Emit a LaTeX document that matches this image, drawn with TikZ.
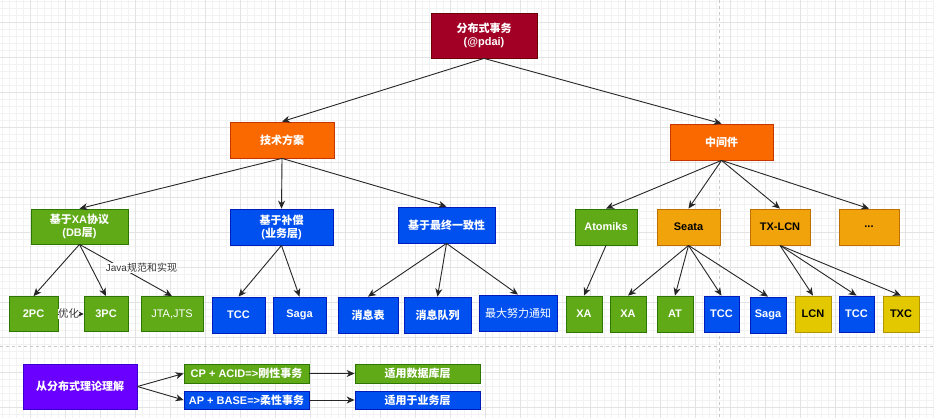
\documentclass[tikz,border=0pt]{standalone}
\usepackage{fontspec}
\setmainfont{Liberation Sans}
\newfontfamily\cjk{Noto Sans CJK SC}
\newcommand\zh[1]{{\cjk #1}}
\usetikzlibrary{arrows.meta}
\definecolor{cRed}{HTML}{A20025}\definecolor{cRedS}{HTML}{6F0000}
\definecolor{cOra}{HTML}{FA6800}\definecolor{cOraS}{HTML}{C73500}
\definecolor{cGrn}{HTML}{60A917}\definecolor{cGrnS}{HTML}{2D7600}
\definecolor{cBlu}{HTML}{0050EF}\definecolor{cBluS}{HTML}{001DBC}
\definecolor{cAmb}{HTML}{F0A30A}\definecolor{cAmbS}{HTML}{BD7000}
\definecolor{cYel}{HTML}{E3C800}\definecolor{cYelS}{HTML}{B09500}
\definecolor{cPur}{HTML}{6A00FF}\definecolor{cPurS}{HTML}{3700CC}
\definecolor{gMinor}{HTML}{F2F2F2}\definecolor{gMajor}{HTML}{E3E3E3}
\definecolor{pgLine}{HTML}{C8C8C8}\definecolor{lblText}{HTML}{333333}
\newcommand\fsz{\fontsize{11}{13}\selectfont}
\tikzset{
  box/.style={draw, line width=0.8pt, inner sep=0pt, align=center,
    font=\fsz\bfseries, text=white},
  nred/.style={box, fill=cRed, draw=cRedS},
  nora/.style={box, fill=cOra, draw=cOraS},
  ngrn/.style={box, fill=cGrn, draw=cGrnS},
  nblu/.style={box, fill=cBlu, draw=cBluS},
  namb/.style={box, fill=cAmb, draw=cAmbS, text=black},
  nyel/.style={box, fill=cYel, draw=cYelS, text=black},
  npur/.style={box, fill=cPur, draw=cPurS},
  thin/.style={font=\fsz\mdseries},
  sz/.style 2 args={minimum width=#1pt, minimum height=#2pt},
  arr/.style={-{Stealth[length=8pt,width=7pt,inset=2.5pt]}, line width=0.9pt, draw=black!85},
  smallarr/.style={-{Stealth[length=5pt,width=5pt,inset=1.5pt]}, line width=0.9pt, draw=black!85},
  lbl/.style={fill=white, inner sep=0.3pt, text=lblText},
  gminor/.style={draw=gMinor, line width=0.5pt},
  gmajor/.style={draw=gMajor, line width=0.7pt},
  pgline/.style={draw=pgLine, line width=0.7pt, dash pattern=on 3pt off 3pt}
}
\begin{document}
\begin{tikzpicture}[x=1pt,y=-1pt]
\useasboundingbox (0,0) rectangle (934,418);
\fill[white] (0,0) rectangle (934,418);
% grid
\foreach \i in {0,...,133} \draw[gminor] ({2.7+7*\i},0) -- ({2.7+7*\i},418);
\foreach \i in {0,...,59} \draw[gminor] (0,{1.7+7*\i}) -- (934,{1.7+7*\i});
\foreach \i in {0,...,26} \draw[gmajor] ({30.7+35*\i},0) -- ({30.7+35*\i},418);
\foreach \i in {0,...,11} \draw[gmajor] (0,{22.7+35*\i}) -- (934,{22.7+35*\i});
\draw[pgline] (0,346) -- (934,346);
\draw[pgline] (719,0) -- (719,418);

% level 0-1
\node[nred, sz={106}{45}] (root) at (484,35.5) {\zh{分布式事务}\\(@pdai)};
\node[nora, sz={104}{36}] (tech) at (282,140) {\zh{技术方案}};
\node[nora, sz={103}{36}] (mid) at (721.5,142) {\zh{中间件}};
% level 2
\node[ngrn, sz={97}{35}] (xa) at (79.5,226.5) {\zh{基于}XA\zh{协议}\\(DB\zh{层})};
\node[nblu, sz={103}{36}] (comp) at (281.5,227) {\zh{基于补偿}\\(\zh{业务层})};
\node[nblu, sz={97}{36}] (final) at (446.5,225) {\zh{基于最终一致性}};
\node[ngrn, sz={62}{36}] (atom) at (606,227) {Atomiks};
\node[namb, sz={63}{36}] (seata) at (688.5,227) {Seata};
\node[namb, sz={60}{36}] (txlcn) at (780,227) {TX-LCN};
\node[namb, sz={60}{36}] (dots) at (869,227) {...};
% level 3
\node[ngrn, sz={49}{35}] (p2) at (33.5,314) {2PC};
\node[ngrn, sz={44}{35}] (p3) at (106,314) {3PC};
\node[ngrn, thin, sz={62}{35}] (jta) at (172,314) {JTA,JTS};
\node[nblu, sz={53}{36}] (tcc1) at (238.5,315) {TCC};
\node[nblu, sz={53}{36}] (saga1) at (299.5,315) {Saga};
\node[nblu, sz={60}{36}] (msgtab) at (368,315) {\zh{消息表}};
\node[nblu, sz={67}{36}] (msgq) at (437.5,315) {\zh{消息队列}};
\node[nblu, thin, sz={78}{36}] (best) at (518,313) {\zh{最大努力通知}};
\node[ngrn, sz={36}{36}] (xa1) at (584,314) {XA};
\node[ngrn, sz={36}{36}] (xa2) at (628,314) {XA};
\node[ngrn, sz={36}{36}] (at) at (675,314) {AT};
\node[nblu, sz={35}{36}] (tcc2) at (721.5,314) {TCC};
\node[nblu, sz={36}{36}] (saga2) at (768,315) {Saga};
\node[nyel, sz={36}{36}] (lcn) at (813,314) {LCN};
\node[nblu, sz={35}{36}] (tcc3) at (856.5,314) {TCC};
\node[nyel, sz={36}{36}] (txc) at (901,314) {TXC};
% bottom section
\node[npur, sz={114}{45}] (theory) at (80,386.5) {\zh{从分布式理论理解}};
\node[ngrn, sz={125}{19}] (cp) at (246.5,373.5) {CP + ACID=>\zh{刚性事务}};
\node[nblu, sz={125}{18}] (ap) at (246.5,400) {AP + BASE=>\zh{柔性事务}};
\node[ngrn, sz={125}{19}] (db) at (417.5,373.5) {\zh{适用数据库层}};
\node[nblu, sz={125}{18}] (biz) at (417.5,400) {\zh{适用于业务层}};

% edges
\draw[arr] (root.south) -- (tech.north);
\draw[arr] (root.south) -- (mid.north);
\draw[arr] (tech.south) -- (xa.north);
\draw[arr] (tech.south) -- (comp.north);
\draw[arr] (tech.south) -- (final.north);
\draw[arr] (mid.south) -- (atom.north);
\draw[arr] (mid.south) -- (seata.north);
\draw[arr] (mid.south) -- (txlcn.north);
\draw[arr] (mid.south) -- (dots.north);
\draw[arr] (xa.south) -- (p2.north);
\draw[arr] (xa.south) -- (p3.north);
\draw[arr] (xa.south) -- (jta.north);
\node[lbl, font=\fontsize{10.5}{12}\selectfont, inner sep=0pt] (opt) at (68.5,314) {\zh{优化}};
\draw[line width=0.9pt, draw=black!85] (p2.east) -- (opt.west);
\draw[smallarr] (opt.east) -- (p3.west);
\draw[arr] (comp.south) -- (tcc1.north);
\draw[arr] (comp.south) -- (saga1.north);
\draw[arr] (final.south) -- (msgtab.north);
\draw[arr] (final.south) -- (msgq.north);
\draw[arr] (final.south) -- (best.north);
\draw[arr] (atom.south) -- (xa1.north);
\draw[arr] (seata.south) -- (xa2.north);
\draw[arr] (seata.south) -- (at.north);
\draw[arr] (seata.south) -- (tcc2.north);
\draw[arr] (seata.south) -- (saga2.north);
\draw[arr] (txlcn.south) -- (lcn.north);
\draw[arr] (txlcn.south) -- (tcc3.north);
\draw[arr] (txlcn.south) -- (txc.north);
\draw[arr] (theory.east) -- (cp.west);
\draw[arr] (theory.east) -- (ap.west);
\draw[arr] (cp.east) -- (db.west);
\draw[arr] (ap.east) -- (biz.west);
\node[lbl, font=\fontsize{10}{12}\selectfont] (java) at (141.5,268) {Java\zh{规范和实现}};
\end{tikzpicture}
\end{document}
